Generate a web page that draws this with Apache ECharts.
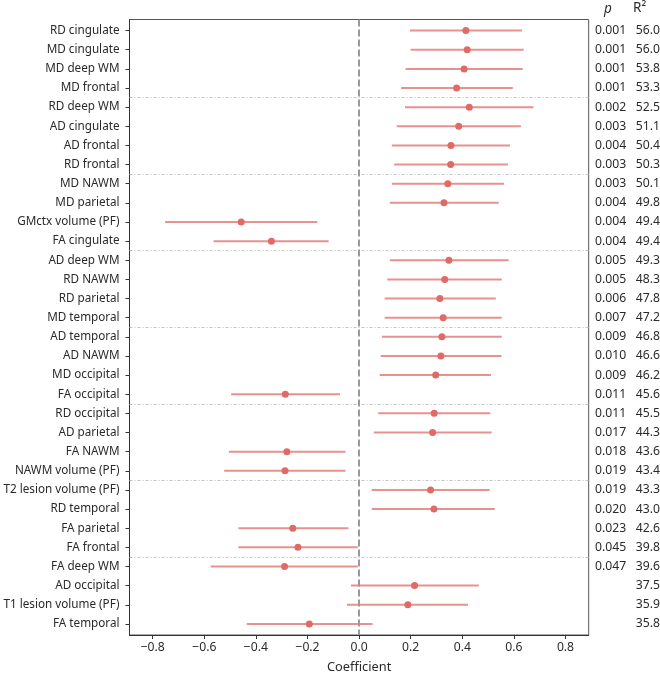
<!DOCTYPE html>
<html><head><meta charset="utf-8">
<script src="https://cdn.jsdelivr.net/npm/echarts@6/dist/echarts.min.js"></script>
<style>html,body{margin:0;padding:0;background:#fff}#c{width:660px;height:674px}</style>
</head><body><div id="c"></div>
<script>
const rows = ["RD cingulate","MD cingulate","MD deep WM","MD frontal","RD deep WM","AD cingulate","AD frontal","RD frontal","MD NAWM","MD parietal","GMctx volume (PF)","FA cingulate","AD deep WM","RD NAWM","RD parietal","MD temporal","AD temporal","AD NAWM","MD occipital","FA occipital","RD occipital","AD parietal","FA NAWM","NAWM volume (PF)","T2 lesion volume (PF)","RD temporal","FA parietal","FA frontal","FA deep WM","AD occipital","T1 lesion volume (PF)","FA temporal"];
const est = [0.414,0.419,0.407,0.378,0.427,0.386,0.356,0.355,0.344,0.329,-0.457,-0.340,0.348,0.332,0.313,0.326,0.321,0.317,0.297,-0.286,0.291,0.285,-0.280,-0.287,0.277,0.290,-0.257,-0.237,-0.289,0.215,0.189,-0.193];
const lower = [0.197,0.200,0.180,0.163,0.178,0.146,0.127,0.136,0.127,0.119,-0.752,-0.564,0.119,0.109,0.099,0.099,0.088,0.084,0.080,-0.496,0.074,0.057,-0.505,-0.523,0.049,0.049,-0.468,-0.468,-0.575,-0.031,-0.047,-0.436];
const upper = [0.632,0.638,0.634,0.596,0.676,0.627,0.585,0.577,0.562,0.541,-0.162,-0.118,0.580,0.553,0.530,0.553,0.553,0.552,0.511,-0.074,0.509,0.514,-0.053,-0.053,0.506,0.526,-0.041,-0.005,-0.005,0.464,0.422,0.052];
const pvals = ["0.001","0.001","0.001","0.001","0.002","0.003","0.004","0.003","0.003","0.004","0.004","0.004","0.005","0.005","0.006","0.007","0.009","0.010","0.009","0.011","0.011","0.017","0.018","0.019","0.019","0.020","0.023","0.045","0.047","","",""];
const r2 = ["56.0","56.0","53.8","53.3","52.5","51.1","50.4","50.3","50.1","49.8","49.4","49.4","49.3","48.3","47.8","47.2","46.8","46.6","46.2","45.6","45.5","44.3","43.6","43.4","43.3","43.0","42.6","39.8","39.6","37.5","35.9","35.8"];
const xTicks = [-0.8,-0.6,-0.4,-0.2,0,0.2,0.4,0.6,0.8];
const dividers = [3.5,7.5,11.5,15.5,19.5,23.5,27.5];

const idx = rows.map((_, i) => i);
const FONT = "Noto Sans";
const FS = 12.2;
const FSL = 11.7;
const TXT = '#2a2a2a';
const chart = echarts.init(document.getElementById('c'));
const yBase = {type:'value', min:-0.58, max:31.58, inverse:true, splitLine:{show:false}};
chart.setOption({
  animation:false,
  textStyle:{fontFamily:FONT},
  grid:{left:129.5, right:71.3, top:19.5, bottom:39, containLabel:false, outerBoundsMode:'none',
    show:true, borderColor:'#555', borderWidth:1},
  xAxis:{type:'value', min:-0.89, max:0.89, splitLine:{show:false},
    axisLine:{onZero:false, lineStyle:{color:'#333'}},
    axisTick:{customValues:xTicks, length:4, lineStyle:{color:'#333'}},
    axisLabel:{customValues:xTicks, color:TXT, fontSize:FS, margin:7,
      formatter:v => (v<0?'\u2212':'') + Math.abs(v).toFixed(1)},
    name:'Coefficient', nameLocation:'middle', nameGap:26, nameTextStyle:{color:TXT, fontSize:12.8, fontFamily:FONT}},
  yAxis:[
    Object.assign({}, yBase, {
      axisLine:{show:true, onZero:false, lineStyle:{color:'#333'}},
      axisTick:{customValues:idx, length:4, lineStyle:{color:'#333'}},
      axisLabel:{customValues:idx, color:TXT, fontSize:FSL, margin:10, formatter:v => rows[v]}
    }),
    Object.assign({}, yBase, {position:'right',
      axisLine:{show:false, onZero:false}, axisTick:{show:false},
      axisLabel:{customValues:idx, margin:7, fontSize:FS, color:TXT,
        formatter:v => '{p|' + pvals[v] + '}{r|' + r2[v] + '}',
        rich:{p:{width:30, align:'right', fontSize:FS, color:TXT, fontFamily:FONT},
              r:{padding:[0,0,0,10], fontSize:FS, color:TXT, fontFamily:FONT}}}
    })
  ],
  graphic:[
    {type:'text', left:604, top:2, style:{text:'p', fontStyle:'italic', fontSize:13.5, fill:TXT, fontFamily:FONT}},
    {type:'text', left:633, top:1, style:{text:'R\u00b2', fontSize:13.5, fill:TXT, fontFamily:FONT}}
  ],
  series:[
    {type:'custom', yAxisIndex:0,
      data: idx.map(i => [lower[i], upper[i], i]),
      encode:{x:[0,1], y:2},
      renderItem:(params, api) => {
        const a = api.coord([api.value(0), api.value(2)]);
        const b = api.coord([api.value(1), api.value(2)]);
        return {type:'line', shape:{x1:a[0], y1:a[1], x2:b[0], y2:b[1]}, style:{stroke:'#e8928e', lineWidth:2}};
      },
      markLine:{silent:true, symbol:'none', label:{show:false},
        data: dividers.map(d => ({yAxis:d})),
        lineStyle:{color:'#c4c4c4', width:1, type:[3,2,1,2]}}
    },
    {type:'scatter', yAxisIndex:0, symbolSize:7, itemStyle:{color:'#e06b66', opacity:1},
      data: idx.map(i => [est[i], i]), z:3,
      markLine:{silent:true, symbol:'none', label:{show:false}, data:[{xAxis:0}],
        lineStyle:{color:'#9a9a9a', width:2, type:[7,3]}}
    }
  ]
});
</script></body></html>
